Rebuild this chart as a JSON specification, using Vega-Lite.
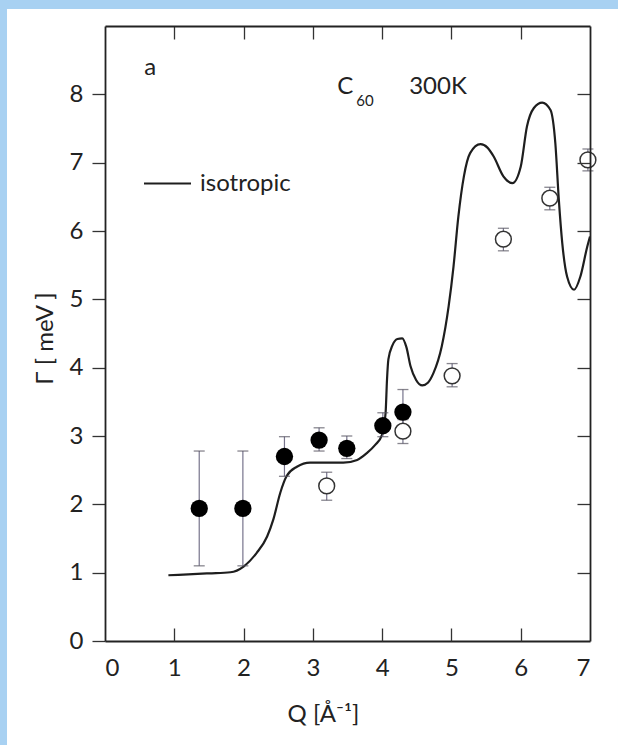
{
  "$schema": "https://vega.github.io/schema/vega-lite/v6.json",
  "width": 485,
  "height": 615,
  "autosize": {"type": "none"},
  "padding": {"left": 105, "top": 26, "right": 28, "bottom": 104},
  "background": "#a8d1f2",
  "config": {
    "view": {"stroke": null},
    "font": "Lato",
    "axis": {
      "grid": false,
      "domainColor": "#222222",
      "domainWidth": 1.8,
      "tickColor": "#333333",
      "tickWidth": 1.3,
      "labelFont": "Lato",
      "labelFontSize": 24,
      "labelColor": "#222222",
      "titleFont": "Lato",
      "titleFontSize": 24,
      "titleFontWeight": "normal",
      "titleColor": "#222222"
    }
  },
  "datasets": {
    "curve": [
      {"q": 0.915, "g": 0.962, "series": "isotropic"},
      {"q": 1.2, "g": 0.975, "series": "isotropic"},
      {"q": 1.5, "g": 0.99, "series": "isotropic"},
      {"q": 1.81, "g": 1.006, "series": "isotropic"},
      {"q": 2.0, "g": 1.09, "series": "isotropic"},
      {"q": 2.19, "g": 1.29, "series": "isotropic"},
      {"q": 2.34, "g": 1.53, "series": "isotropic"},
      {"q": 2.43, "g": 1.78, "series": "isotropic"},
      {"q": 2.53, "g": 2.17, "series": "isotropic"},
      {"q": 2.62, "g": 2.41, "series": "isotropic"},
      {"q": 2.77, "g": 2.55, "series": "isotropic"},
      {"q": 2.96, "g": 2.61, "series": "isotropic"},
      {"q": 3.25, "g": 2.61, "series": "isotropic"},
      {"q": 3.44, "g": 2.61, "series": "isotropic"},
      {"q": 3.64, "g": 2.65, "series": "isotropic"},
      {"q": 3.78, "g": 2.75, "series": "isotropic"},
      {"q": 3.9, "g": 2.87, "series": "isotropic"},
      {"q": 4.0, "g": 3.02, "series": "isotropic"},
      {"q": 4.03, "g": 3.2, "series": "isotropic"},
      {"q": 4.05, "g": 3.34, "series": "isotropic"},
      {"q": 4.07, "g": 3.82, "series": "isotropic"},
      {"q": 4.09, "g": 4.12, "series": "isotropic"},
      {"q": 4.15, "g": 4.33, "series": "isotropic"},
      {"q": 4.22, "g": 4.42, "series": "isotropic"},
      {"q": 4.29, "g": 4.43, "series": "isotropic"},
      {"q": 4.35, "g": 4.3, "series": "isotropic"},
      {"q": 4.41, "g": 4.02, "series": "isotropic"},
      {"q": 4.49, "g": 3.82, "series": "isotropic"},
      {"q": 4.58, "g": 3.74, "series": "isotropic"},
      {"q": 4.66, "g": 3.78, "series": "isotropic"},
      {"q": 4.74, "g": 3.92, "series": "isotropic"},
      {"q": 4.86, "g": 4.31, "series": "isotropic"},
      {"q": 4.96, "g": 4.9, "series": "isotropic"},
      {"q": 5.03, "g": 5.48, "series": "isotropic"},
      {"q": 5.1, "g": 6.21, "series": "isotropic"},
      {"q": 5.18, "g": 6.8, "series": "isotropic"},
      {"q": 5.27, "g": 7.14, "series": "isotropic"},
      {"q": 5.42, "g": 7.27, "series": "isotropic"},
      {"q": 5.52, "g": 7.22, "series": "isotropic"},
      {"q": 5.61, "g": 7.09, "series": "isotropic"},
      {"q": 5.75, "g": 6.8, "series": "isotropic"},
      {"q": 5.88, "g": 6.7, "series": "isotropic"},
      {"q": 6.0, "g": 6.94, "series": "isotropic"},
      {"q": 6.09, "g": 7.53, "series": "isotropic"},
      {"q": 6.19, "g": 7.8, "series": "isotropic"},
      {"q": 6.31, "g": 7.88, "series": "isotropic"},
      {"q": 6.43, "g": 7.77, "series": "isotropic"},
      {"q": 6.5, "g": 7.28, "series": "isotropic"},
      {"q": 6.55, "g": 6.46, "series": "isotropic"},
      {"q": 6.6, "g": 5.82, "series": "isotropic"},
      {"q": 6.67, "g": 5.33, "series": "isotropic"},
      {"q": 6.77, "g": 5.14, "series": "isotropic"},
      {"q": 6.86, "g": 5.33, "series": "isotropic"},
      {"q": 6.96, "g": 5.77, "series": "isotropic"},
      {"q": 7.0, "g": 5.92, "series": "isotropic"}
    ],
    "filled": [
      {"q": 1.36, "g": 1.94, "lo": 1.1, "hi": 2.78},
      {"q": 1.99, "g": 1.94, "lo": 1.1, "hi": 2.78},
      {"q": 2.59, "g": 2.7, "lo": 2.41, "hi": 2.99},
      {"q": 3.09, "g": 2.94, "lo": 2.78, "hi": 3.12},
      {"q": 3.49, "g": 2.82, "lo": 2.67, "hi": 3.0},
      {"q": 4.01, "g": 3.15, "lo": 2.99, "hi": 3.34},
      {"q": 4.3, "g": 3.35, "lo": 3.02, "hi": 3.68}
    ],
    "open": [
      {"q": 3.2, "g": 2.27, "lo": 2.06, "hi": 2.47},
      {"q": 4.3, "g": 3.07, "lo": 2.89, "hi": 3.24},
      {"q": 5.01, "g": 3.88, "lo": 3.72, "hi": 4.06},
      {"q": 5.75, "g": 5.88, "lo": 5.71, "hi": 6.04},
      {"q": 6.42, "g": 6.48, "lo": 6.31, "hi": 6.64},
      {"q": 6.97, "g": 7.04, "lo": 6.88, "hi": 7.2}
    ],
    "notes": [
      {"q": 0.653, "g": 8.29, "text": "a"},
      {"q": 3.468, "g": 8.01, "text": "C"},
      {"q": 4.806, "g": 8.01, "text": "300K"}
    ],
    "subscripts": [
      {"q": 3.751, "g": 7.83, "text": "60"}
    ]
  },
  "resolve": {"axis": {"x": "independent", "y": "independent"}},
  "layer": [
    {
      "description": "white page panel behind the figure",
      "data": {"values": [{}]},
      "mark": {"type": "rect", "clip": false, "fill": "white", "stroke": null},
      "encoding": {
        "x": {"datum": -1.4144, "type": "quantitative", "scale": {"domain": [0, 7], "nice": false, "zero": false}, "axis": null},
        "x2": {"datum": 7.404},
        "y": {"datum": -1.522, "type": "quantitative", "scale": {"domain": [0, 9], "nice": false, "zero": false}, "axis": null},
        "y2": {"datum": 9.249}
      }
    },
    {
      "data": {"name": "curve"},
      "mark": {"type": "line", "interpolate": "monotone", "strokeWidth": 2.2},
      "encoding": {
        "x": {
          "field": "q", "type": "quantitative",
          "axis": {
            "orient": "bottom", "zindex": 1, "values": [0, 1, 2, 3, 4, 5, 6, 7],
            "ticks": false, "tickSize": 0, "labelPadding": 15,
            "title": "Q [Å⁻¹]", "titleX": 218, "titleY": 80,
            "titleAlign": "center", "titleBaseline": "alphabetic"
          }
        },
        "y": {
          "field": "g", "type": "quantitative",
          "axis": {
            "orient": "left", "zindex": 1, "values": [0, 1, 2, 3, 4, 5, 6, 7, 8],
            "tickSize": 13, "labelPadding": 9,
            "title": "Γ [ meV ]", "titleX": -60, "titleY": 312,
            "titleAngle": -90, "titleAlign": "center", "titleBaseline": "middle"
          }
        },
        "color": {
          "field": "series", "type": "nominal",
          "scale": {"range": ["#1e1e1e"]},
          "legend": {
            "title": null, "orient": "none", "legendX": 38, "legendY": 133,
            "padding": 0, "symbolType": "stroke", "symbolSize": 2209,
            "symbolStrokeWidth": 2, "labelFont": "Lato", "labelFontSize": 24,
            "labelColor": "#222222", "labelOffset": 8
          }
        }
      }
    },
    {
      "data": {"name": "filled"},
      "mark": {"type": "rule", "color": "#77748c", "strokeWidth": 1.2},
      "encoding": {
        "x": {
          "field": "q", "type": "quantitative",
          "axis": {"orient": "bottom", "zindex": 1, "offset": -13, "values": [1, 2, 3, 4, 5, 6], "domain": false, "labels": false, "tickSize": 13, "title": null}
        },
        "y": {"field": "lo", "type": "quantitative", "axis": null},
        "y2": {"field": "hi"}
      }
    },
    {
      "data": {"name": "open"},
      "mark": {"type": "rule", "color": "#77748c", "strokeWidth": 1.2},
      "encoding": {
        "x": {
          "field": "q", "type": "quantitative",
          "axis": {"orient": "top", "zindex": 1, "offset": -13, "values": [1, 2, 3, 4, 5, 6], "domain": false, "labels": false, "tickSize": 13, "title": null}
        },
        "y": {
          "field": "lo", "type": "quantitative",
          "axis": {"orient": "right", "zindex": 1, "offset": -13, "values": [1, 2, 3, 4, 5, 6, 7, 8], "domain": false, "labels": false, "tickSize": 13, "title": null}
        },
        "y2": {"field": "hi"}
      }
    },
    {
      "data": {"name": "filled"},
      "mark": {"type": "tick", "orient": "horizontal", "size": 11, "thickness": 1.3, "color": "#55535f"},
      "encoding": {
        "x": {"field": "q", "type": "quantitative", "axis": null},
        "y": {"field": "hi", "type": "quantitative", "axis": null}
      }
    },
    {
      "data": {"name": "filled"},
      "mark": {"type": "tick", "orient": "horizontal", "size": 11, "thickness": 1.3, "color": "#55535f"},
      "encoding": {
        "x": {"field": "q", "type": "quantitative", "axis": null},
        "y": {"field": "lo", "type": "quantitative", "axis": null}
      }
    },
    {
      "data": {"name": "open"},
      "mark": {"type": "tick", "orient": "horizontal", "size": 11, "thickness": 1.3, "color": "#55535f"},
      "encoding": {
        "x": {"field": "q", "type": "quantitative", "axis": null},
        "y": {"field": "hi", "type": "quantitative", "axis": null}
      }
    },
    {
      "data": {"name": "open"},
      "mark": {"type": "tick", "orient": "horizontal", "size": 11, "thickness": 1.3, "color": "#55535f"},
      "encoding": {
        "x": {"field": "q", "type": "quantitative", "axis": null},
        "y": {"field": "lo", "type": "quantitative", "axis": null}
      }
    },
    {
      "data": {"name": "open"},
      "mark": {"type": "point", "shape": "circle", "filled": false, "fill": "white", "fillOpacity": 1, "stroke": "#333333", "strokeWidth": 1.5, "opacity": 1, "size": 250},
      "encoding": {
        "x": {"field": "q", "type": "quantitative", "axis": null},
        "y": {"field": "g", "type": "quantitative", "axis": null}
      }
    },
    {
      "data": {"name": "filled"},
      "mark": {"type": "point", "shape": "circle", "filled": true, "color": "#000000", "opacity": 1, "size": 300},
      "encoding": {
        "x": {
          "field": "q", "type": "quantitative",
          "axis": {"orient": "top", "zindex": 1, "ticks": false, "tickSize": 0, "labels": false, "title": null}
        },
        "y": {
          "field": "g", "type": "quantitative",
          "axis": {"orient": "right", "zindex": 1, "ticks": false, "tickSize": 0, "labels": false, "title": null}
        }
      }
    },
    {
      "data": {"name": "notes"},
      "mark": {"type": "text", "font": "Lato", "fontSize": 24, "color": "#222222", "align": "center", "baseline": "alphabetic"},
      "encoding": {
        "x": {"field": "q", "type": "quantitative", "axis": null},
        "y": {"field": "g", "type": "quantitative", "axis": null},
        "text": {"field": "text"}
      }
    },
    {
      "data": {"name": "subscripts"},
      "mark": {"type": "text", "font": "Lato", "fontSize": 15, "color": "#222222", "align": "center", "baseline": "alphabetic"},
      "encoding": {
        "x": {"field": "q", "type": "quantitative", "axis": null},
        "y": {"field": "g", "type": "quantitative", "axis": null},
        "text": {"field": "text"}
      }
    }
  ]
}
